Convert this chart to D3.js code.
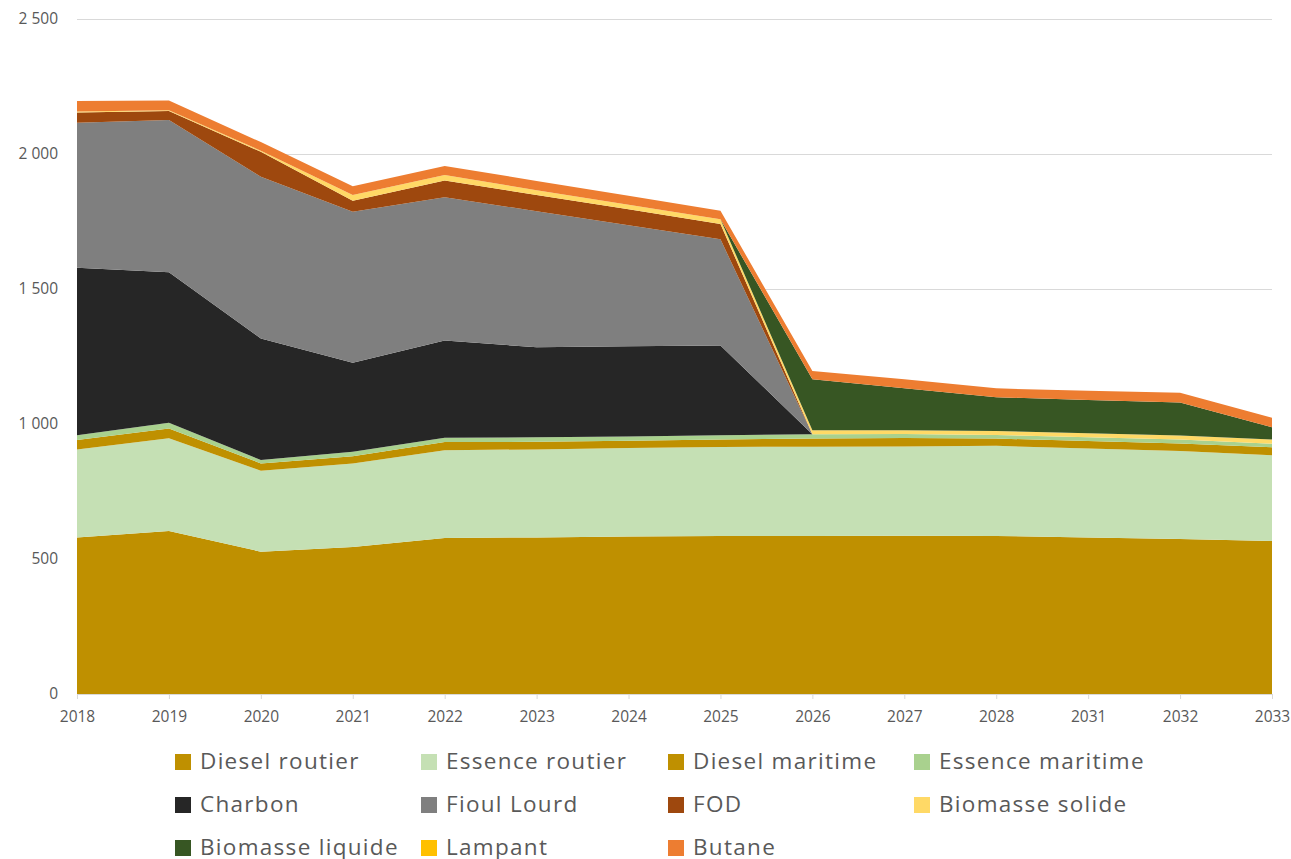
<!DOCTYPE html>
<html>
<head>
<meta charset="utf-8">
<script src="https://cdn.jsdelivr.net/npm/d3@7"></script>
<style>
  html, body { margin: 0; padding: 0; background: #fff; }
  svg { display: block; }
  text { font-family: "Open Sans", "Noto Sans", sans-serif; }
</style>
</head>
<body>
<svg id="chart" width="1291" height="859"></svg>
<script>
// ---- Data ----
const years = ["2018","2019","2020","2021","2022","2023","2024","2025","2026","2027","2028","2031","2032","2033"];
const dieselRoutier   = [580, 604, 527, 544, 578, 580, 583, 585, 585, 586, 585, 580, 574, 567];
const essenceRoutier  = [326, 343, 300, 310, 325, 326, 328, 330, 331, 331, 334, 329, 326, 317];
const dieselMaritime  = [ 35,  36,  27,  27,  30,  28,  27,  28,  30,  31,  27,  28,  28,  30];
const essenceMaritime = [ 17,  22,  13,  16,  16,  17,  16,  15,  16,  15,  13,  14,  15,  13];
const charbon         = [621, 557, 450, 330, 360, 333, 334, 333,   0,   0,   0,   0,   0,   0];
const fioulLourd      = [537, 564, 599, 559, 531, 504, 448, 393,   0,   0,   0,   0,   0,   0];
const fod             = [ 38,  33,  92,  41,  62,  60,  59,  57,   0,   0,   0,   0,   0,   0];
const biomasseSolide  = [  3,   3,   4,  21,  20,  18,  17,  17,  15,  14,  15,  15,  14,  16];
const biomasseLiquide = [  0,   0,   0,   0,   0,   0,   0,   0, 189, 155, 125, 123, 123,  45];
const lampant         = [  0,   0,   0,   0,   0,   0,   0,   0,   0,   0,   0,   0,   0,   0];
const butane          = [ 39,  36,  32,  33,  34,  34,  33,  32,  30,  34,  33,  34,  36,  35];

const seriesNames  = ["Diesel routier","Essence routier","Diesel maritime","Essence maritime","Charbon","Fioul Lourd","FOD","Biomasse solide","Biomasse liquide","Lampant","Butane"];
const seriesValues = [dieselRoutier, essenceRoutier, dieselMaritime, essenceMaritime, charbon, fioulLourd, fod, biomasseSolide, biomasseLiquide, lampant, butane];
const seriesColors = ["#BF9000","#C5E0B4","#BF9000","#A9D18E","#262626","#7F7F7F","#9E480E","#FFD966","#375623","#FFC000","#ED7D31"];
const yTicks = [0, 500, 1000, 1500, 2000, 2500];
const titleText = "Émissions de GES par type d'énergie (kt CO₂)";

// ---- Build table ----
const table = years.map((yr, i) => {
  const row = { year: yr };
  seriesNames.forEach((n, k) => row[n] = seriesValues[k][i]);
  return row;
});

const svg = d3.select("#chart");
const plotLeft = 77, plotRight = 1272, plotTop = 19, plotBottom = 694;

const x = d3.scalePoint().domain(years).range([plotLeft, plotRight]);
const y = d3.scaleLinear().domain([0, 2500]).range([plotBottom, plotTop]);

// Title (mostly clipped above the view, as in the reference)
svg.append("text")
  .attr("x", 620).attr("y", -5)
  .attr("text-anchor", "middle")
  .attr("font-size", 20).attr("font-weight", "bold")
  .attr("fill", "#404040")
  .text(titleText);

// Gridlines + y labels
const yAxis = d3.axisLeft(y)
  .tickValues(yTicks)
  .tickSize(-(plotRight - plotLeft))
  .tickPadding(19)
  .tickFormat(d => d3.format(",")(d).replace(/,/g, " "));
const gy = svg.append("g").attr("transform", `translate(${plotLeft},0)`).call(yAxis);
gy.select(".domain").remove();
gy.selectAll(".tick line").attr("stroke", "#D9D9D9").attr("stroke-width", 1);
gy.selectAll(".tick text").attr("fill", "#595959").attr("font-size", 15.5)
  .style("font-family", "'Open Sans', sans-serif");

// Stack
const stack = d3.stack().keys(seriesNames);
const layers = stack(table);
const area = d3.area()
  .x(d => x(d.data.year))
  .y0(d => y(d[0]))
  .y1(d => y(d[1]));

svg.append("g").selectAll("path")
  .data(layers)
  .join("path")
  .attr("d", area)
  .attr("fill", (d, i) => seriesColors[i]);

// X axis
const xAxis = d3.axisBottom(x).tickSize(5).tickPadding(12);
const gx = svg.append("g").attr("transform", `translate(0,${plotBottom})`).call(xAxis);
gx.select(".domain").attr("stroke", "#D9D9D9");
gx.selectAll(".tick line").attr("stroke", "#D9D9D9");
gx.selectAll(".tick text").attr("fill", "#595959").attr("font-size", 15.5)
  .style("font-family", "'Open Sans', sans-serif");

// Legend
const legendCols = [174, 420, 667, 913];
const legendRows = [761, 804, 847];
const lg = svg.append("g");
seriesNames.forEach((n, i) => {
  const cx = legendCols[i % 4], cy = legendRows[Math.floor(i / 4)];
  lg.append("rect").attr("x", cx + 1).attr("y", cy - 7).attr("width", 16).attr("height", 16)
    .attr("fill", seriesColors[i]);
  lg.append("text").attr("x", cx + 26).attr("y", cy).attr("dy", "0.35em")
    .attr("font-size", 22.5).attr("letter-spacing", 1.3).attr("fill", "#595959")
    .text(n);
});
</script>
</body>
</html>
